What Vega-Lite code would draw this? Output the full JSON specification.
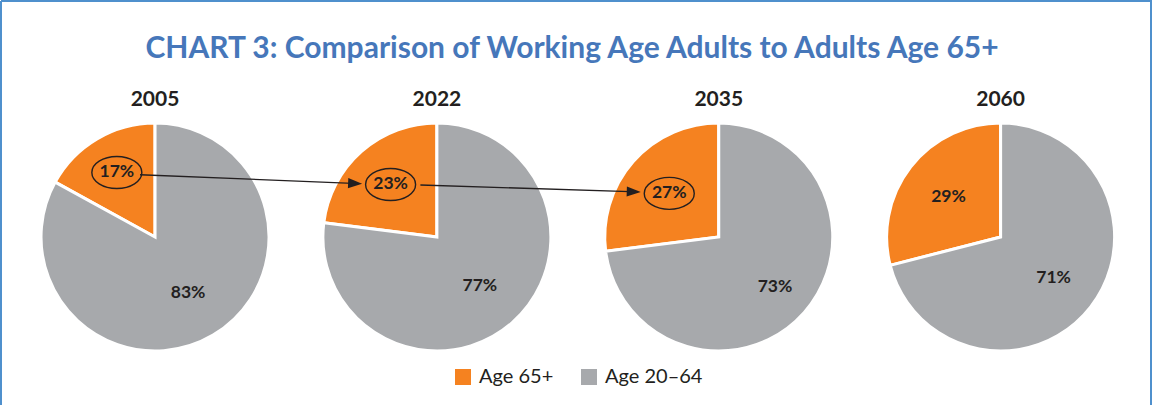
{
  "$schema": "https://vega.github.io/schema/vega-lite/v6.json",
  "autosize": {"type": "none"},
  "padding": {"left": 1, "top": 1, "right": 1, "bottom": 0},
  "width": 1150,
  "height": 404,
  "background": "#ffffff",
  "title": {
    "text": "CHART 3: Comparison of Working Age Adults to Adults Age 65+",
    "font": "Lato",
    "fontSize": 30,
    "fontWeight": "bold",
    "color": "#4677BA",
    "anchor": "middle",
    "frame": "group",
    "offset": -87,
    "dx": -4,
    "baseline": "alphabetic"
  },
  "config": {
    "view": {"stroke": "#4F90CD", "strokeWidth": 2, "strokeDash": [1554, 1150, 404, 0]},
    "axis": {"disable": true}
  },
  "data": {
    "values": [
      {"year": "2005", "series": "Age 65+", "share": 0.17},
      {"year": "2005", "series": "Age 20–64", "share": 0.83},
      {"year": "2022", "series": "Age 65+", "share": 0.23},
      {"year": "2022", "series": "Age 20–64", "share": 0.77},
      {"year": "2035", "series": "Age 65+", "share": 0.27},
      {"year": "2035", "series": "Age 20–64", "share": 0.73},
      {"year": "2060", "series": "Age 65+", "share": 0.29},
      {"year": "2060", "series": "Age 20–64", "share": 0.71}
    ]
  },
  "encoding": {
    "y": {"datum": 0, "type": "quantitative", "scale": {"domain": [-1, 1], "range": [472, 0]}, "axis": null}
  },
  "layer": [
    {
      "transform": [{"filter": "datum.year == '2005'"}],
      "encoding": {"x": {"field": "year", "type": "ordinal", "scale": {"type": "point", "padding": 0.54, "align": 0.506}, "axis": null}},
      "layer": [
        {
          "mark": {"type": "arc", "radius": 114, "stroke": "#ffffff", "strokeWidth": 3},
          "encoding": {
            "theta": {"field": "share", "type": "quantitative", "stack": true, "scale": {"domain": [0, 1]}},
            "order": {"field": "series", "sort": "ascending"},
            "color": {
              "field": "series", "type": "nominal",
              "scale": {"domain": ["Age 65+", "Age 20–64"], "range": ["#F58220", "#A7A9AC"]},
              "legend": {
                "orient": "none", "legendX": 452, "legendY": 366, "direction": "horizontal", "title": null,
                "symbolType": "square", "symbolSize": 256, "symbolStrokeWidth": 0, "symbolOpacity": 1,
                "labelFont": "Lato", "labelFontSize": 20, "labelColor": "#231F20", "labelOffset": 6,
                "columnPadding": 25, "padding": 0
              }
            }
          }
        },
        {
          "mark": {"type": "text", "radius": {"expr": "datum.series == 'Age 65+' ? 75 : 65"}, "font": "Lato", "fontWeight": "bold", "fontSize": 17.5, "color": "#231F20"},
          "encoding": {
            "theta": {"field": "share", "type": "quantitative", "stack": true},
            "order": {"field": "series", "sort": "ascending"},
            "text": {"field": "share", "type": "quantitative", "format": ".0%"}
          }
        },
        {
          "transform": [{"filter": "datum.series == 'Age 65+'"}],
          "mark": {"type": "point", "shape": "M-1,0A1,0.64,0,1,0,1,0A1,0.64,0,1,0,-1,0Z", "size": 2500, "filled": false, "stroke": "#231F20", "strokeWidth": 1.4, "opacity": 1, "xOffset": -38.2, "yOffset": -64.5}
        }
      ]
    },
    {
      "transform": [{"filter": "datum.year == '2022'"}],
      "encoding": {"x": {"field": "year", "type": "ordinal", "axis": null}},
      "layer": [
        {
          "mark": {"type": "arc", "radius": 114, "stroke": "#ffffff", "strokeWidth": 3},
          "encoding": {
            "theta": {"field": "share", "type": "quantitative", "stack": true},
            "order": {"field": "series", "sort": "ascending"},
            "color": {"field": "series", "type": "nominal"}
          }
        },
        {
          "mark": {"type": "text", "radius": {"expr": "datum.series == 'Age 65+' ? 70 : 65"}, "font": "Lato", "fontWeight": "bold", "fontSize": 17.5, "color": "#231F20"},
          "encoding": {
            "theta": {"field": "share", "type": "quantitative", "stack": true},
            "order": {"field": "series", "sort": "ascending"},
            "text": {"field": "share", "type": "quantitative", "format": ".0%"}
          }
        },
        {
          "transform": [{"filter": "datum.series == 'Age 65+'"}],
          "mark": {"type": "point", "shape": "M-1,0A1,0.64,0,1,0,1,0A1,0.64,0,1,0,-1,0Z", "size": 2500, "filled": false, "stroke": "#231F20", "strokeWidth": 1.4, "opacity": 1, "xOffset": -46.3, "yOffset": -52.5}
        }
      ]
    },
    {
      "transform": [{"filter": "datum.year == '2035'"}],
      "encoding": {"x": {"field": "year", "type": "ordinal", "axis": null}},
      "layer": [
        {
          "mark": {"type": "arc", "radius": 114, "stroke": "#ffffff", "strokeWidth": 3},
          "encoding": {
            "theta": {"field": "share", "type": "quantitative", "stack": true},
            "order": {"field": "series", "sort": "ascending"},
            "color": {"field": "series", "type": "nominal"}
          }
        },
        {
          "mark": {"type": "text", "radius": {"expr": "datum.series == 'Age 65+' ? 66 : 75"}, "font": "Lato", "fontWeight": "bold", "fontSize": 17.5, "color": "#231F20"},
          "encoding": {
            "theta": {"field": "share", "type": "quantitative", "stack": true},
            "order": {"field": "series", "sort": "ascending"},
            "text": {"field": "share", "type": "quantitative", "format": ".0%"}
          }
        },
        {
          "transform": [{"filter": "datum.series == 'Age 65+'"}],
          "mark": {"type": "point", "shape": "M-1,0A1,0.64,0,1,0,1,0A1,0.64,0,1,0,-1,0Z", "size": 2500, "filled": false, "stroke": "#231F20", "strokeWidth": 1.4, "opacity": 1, "xOffset": -49.5, "yOffset": -43.6}
        }
      ]
    },
    {
      "transform": [{"filter": "datum.year == '2060'"}],
      "encoding": {"x": {"field": "year", "type": "ordinal", "axis": null}},
      "layer": [
        {
          "mark": {"type": "arc", "radius": 114, "stroke": "#ffffff", "strokeWidth": 3},
          "encoding": {
            "theta": {"field": "share", "type": "quantitative", "stack": true},
            "order": {"field": "series", "sort": "ascending"},
            "color": {"field": "series", "type": "nominal"}
          }
        },
        {
          "mark": {"type": "text", "radius": {"expr": "datum.series == 'Age 65+' ? 66 : 67"}, "font": "Lato", "fontWeight": "bold", "fontSize": 17.5, "color": "#231F20"},
          "encoding": {
            "theta": {"field": "share", "type": "quantitative", "stack": true},
            "order": {"field": "series", "sort": "ascending"},
            "text": {"field": "share", "type": "quantitative", "format": ".0%"}
          }
        }
      ]
    },
    {
      "transform": [{"filter": "datum.series == 'Age 65+'"}],
      "mark": {"type": "text", "font": "Lato", "fontWeight": "bold", "fontSize": 21, "color": "#231F20", "yOffset": -137.5},
      "encoding": {
        "x": {"field": "year", "type": "ordinal", "axis": null},
        "text": {"field": "year"}
      }
    },
    {
      "data": {"values": [{"from": "2005", "to": "2022"}]},
      "mark": {"type": "rule", "color": "#231F20", "strokeWidth": 1.4, "xOffset": -15, "yOffset": -62.3, "x2Offset": -78, "y2Offset": -53.4},
      "encoding": {
        "x": {"field": "from", "type": "ordinal", "axis": null},
        "x2": {"field": "to"},
        "y2": {"datum": 0}
      }
    },
    {
      "data": {"values": [{"from": "2022", "to": "2035"}]},
      "mark": {"type": "rule", "color": "#231F20", "strokeWidth": 1.4, "xOffset": -16.5, "yOffset": -52, "x2Offset": -81, "y2Offset": -45.1},
      "encoding": {
        "x": {"field": "from", "type": "ordinal", "axis": null},
        "x2": {"field": "to"},
        "y2": {"datum": 0}
      }
    },
    {
      "data": {"values": [{"to": "2022"}]},
      "mark": {"type": "point", "shape": "M0,0L-1,-0.36L-1,0.36Z", "size": 784, "filled": true, "color": "#231F20", "opacity": 1, "angle": 2.3, "xOffset": -74.8, "yOffset": -53.3},
      "encoding": {"x": {"field": "to", "type": "ordinal", "axis": null}}
    },
    {
      "data": {"values": [{"to": "2035"}]},
      "mark": {"type": "point", "shape": "M0,0L-1,-0.36L-1,0.36Z", "size": 784, "filled": true, "color": "#231F20", "opacity": 1, "angle": 1.8, "xOffset": -78, "yOffset": -45},
      "encoding": {"x": {"field": "to", "type": "ordinal", "axis": null}}
    }
  ]
}
